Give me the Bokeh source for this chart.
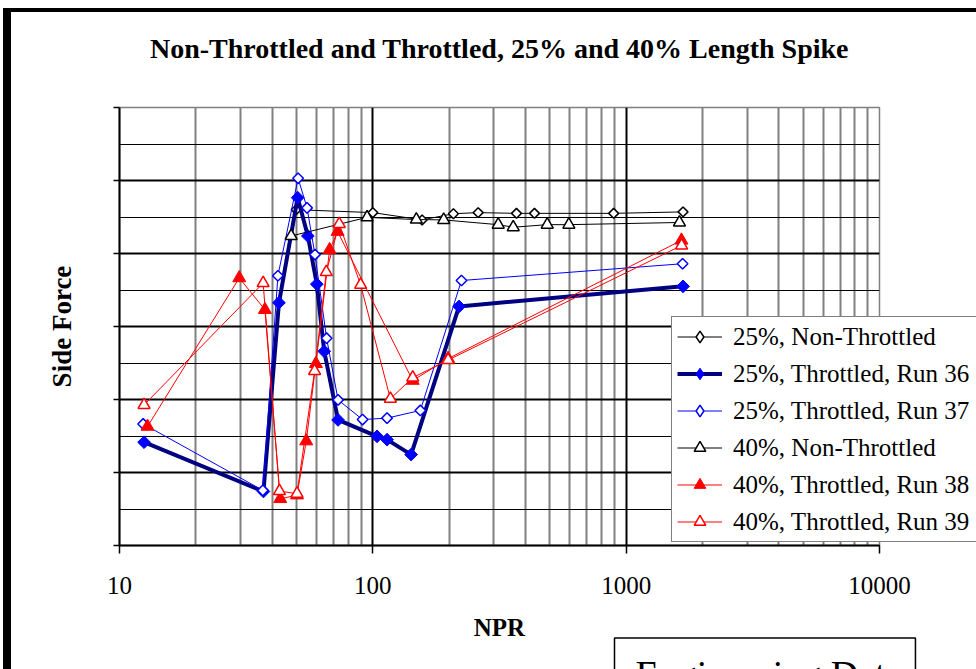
import numpy as np
from bokeh.plotting import figure
from bokeh.models import Range1d, FixedTicker, Legend, LegendItem, Title
from bokeh.embed import file_html
from bokeh.resources import INLINE

# ---------------- data ----------------
title_text = "Non-Throttled and Throttled, 25% and 40% Length Spike"
x_label = "NPR"
y_label = "Side Force"
stamp_text = "Engineering Data"

x_tick_values = [10, 100, 1000, 10000]
x_tick_labels = ["10", "100", "1000", "10000"]
x_minor_values = [20, 30, 40, 50, 60, 70, 80, 90,
                  200, 300, 400, 500, 600, 700, 800, 900,
                  2000, 3000, 4000, 5000, 6000, 7000, 8000, 9000]
y_major_values = [0, 2, 4, 6, 8, 10, 12]
y_minor_values = [1, 3, 5, 7, 9, 11]

series_names = ["25%, Non-Throttled", "25%, Throttled, Run 36", "25%, Throttled, Run 37",
                "40%, Non-Throttled", "40%, Throttled, Run 38", "40%, Throttled, Run 39"]

npr_25_nt = [49.8, 100, 156.5, 208, 260.5, 369, 434.6, 892.5, 1677]
sf_25_nt = [9.20, 9.12, 8.92, 9.09, 9.12, 9.10, 9.10, 9.10, 9.14]

npr_r36 = [12.5, 37.0, 42.6, 50.5, 55.4, 60.1, 64.3, 72.9, 103.9, 113.8, 141.6, 219, 1677]
sf_r36 = [2.83, 1.48, 6.65, 9.53, 8.48, 7.16, 5.32, 3.44, 2.99, 2.90, 2.49, 6.55, 7.10]

npr_r37 = [12.4, 36.8, 42.2, 50.7, 55.0, 59.1, 65.7, 72.9, 91.1, 113.8, 154.0, 223.8, 1670]
sf_r37 = [3.33, 1.51, 7.39, 10.06, 9.25, 7.97, 5.68, 3.99, 3.45, 3.49, 3.70, 7.26, 7.72]

npr_40_nt = [47.6, 94.9, 148.5, 190.4, 312.6, 358.3, 488, 594, 1623]
sf_40_nt = [8.48, 8.99, 8.93, 8.92, 8.79, 8.72, 8.79, 8.79, 8.85]

npr_r38 = [12.9, 29.7, 37.5, 43.1, 50.2, 54.6, 59.6, 67.5, 72.6, 143.7, 198.2, 1653]
sf_r38 = [3.26, 7.33, 6.46, 1.28, 1.38, 2.86, 4.98, 8.10, 8.60, 4.52, 5.12, 8.36]

npr_r39 = [12.5, 36.9, 42.8, 50.2, 58.9, 65.5, 73.7, 89.5, 117.3, 143.7, 198.2, 1655]
sf_r39 = [3.85, 7.19, 1.49, 1.42, 4.78, 7.49, 8.81, 7.14, 4.02, 4.60, 5.08, 8.22]

SERIF = "Liberation Serif"

# ---------------- figure ----------------
p = figure(frame_width=760, frame_height=438, x_axis_type="log",
           x_range=Range1d(10, 10000), y_range=Range1d(0, 12),
           output_backend="svg", toolbar_location=None, title=None,
           min_border_left=108, min_border_right=0,
           min_border_top=95, min_border_bottom=0)
p.styles = {"border-left": "8px solid black", "border-top": "4px solid black"}
p.margin = (8, 0, 0, 3)
p.background_fill_color = "white"
p.border_fill_color = "white"
p.outline_line_color = "#808080"
p.outline_line_width = 1.5

# title: a blank spacer next to the frame, then the title text above it
spacer = Title(text=" ", text_font=SERIF, text_font_size="10px", standoff=31)
p.add_layout(spacer, "above")
main_title = Title(text=title_text, align="center", standoff=0, text_font=SERIF,
                   text_font_style="bold", text_font_size="28px", text_color="black")
p.add_layout(main_title, "above")

# x axis
xa = p.xaxis[0]
xa.ticker = FixedTicker(ticks=x_tick_values, minor_ticks=x_minor_values)
xa.major_label_overrides = {v: t for v, t in zip(x_tick_values, x_tick_labels)}
xa.major_tick_out = 8
xa.major_tick_in = 0
xa.minor_tick_out = 0
xa.minor_tick_in = 0
xa.axis_line_color = "black"
xa.axis_line_width = 2
xa.major_tick_line_color = "black"
xa.major_tick_line_width = 1.5
xa.major_label_text_font = SERIF
xa.major_label_text_font_size = "25px"
xa.major_label_text_color = "black"
xa.major_label_standoff = 23
xa.axis_label = x_label
xa.axis_label_text_font = SERIF
xa.axis_label_text_font_style = "bold"
xa.axis_label_text_font_size = "25px"
xa.axis_label_text_color = "black"
xa.axis_label_standoff = 17

# y axis
ya = p.yaxis[0]
ya.ticker = FixedTicker(ticks=y_major_values, minor_ticks=y_minor_values)
ya.major_label_overrides = {v: "" for v in y_major_values}
ya.major_label_text_font_size = "1px"
ya.major_label_standoff = 0
ya.major_tick_out = 6
ya.major_tick_in = 0
ya.minor_tick_out = 0
ya.minor_tick_in = 0
ya.axis_line_color = "black"
ya.axis_line_width = 2
ya.major_tick_line_color = "black"
ya.major_tick_line_width = 1.5
ya.axis_label = y_label
ya.axis_label_text_font = SERIF
ya.axis_label_text_font_style = "bold"
ya.axis_label_text_font_size = "27px"
ya.axis_label_text_color = "black"
ya.axis_label_standoff = 37

# grids
p.xgrid.grid_line_color = "black"
p.xgrid.grid_line_width = 2
p.xgrid.minor_grid_line_color = "#808080"
p.xgrid.minor_grid_line_width = 2
p.ygrid.grid_line_color = "black"
p.ygrid.grid_line_width = 2
p.ygrid.minor_grid_line_color = "black"
p.ygrid.minor_grid_line_width = 1.2

# ---------------- series ----------------
DIAMOND = np.pi / 4

l1 = p.line(npr_25_nt, sf_25_nt, line_color="black", line_width=1)
m1 = p.scatter(npr_25_nt, sf_25_nt, marker="square", angle=DIAMOND, size=7,
               line_color="black", line_width=1.5, fill_color="white")

l2 = p.line(npr_r36, sf_r36, line_color="#000080", line_width=4)
m2 = p.scatter(npr_r36, sf_r36, marker="square", angle=DIAMOND, size=9,
               line_color="#0000FF", line_width=1, fill_color="#0000FF")

l3 = p.line(npr_r37, sf_r37, line_color="#0000FF", line_width=1)
m3 = p.scatter(npr_r37, sf_r37, marker="square", angle=DIAMOND, size=7.5,
               line_color="#0000FF", line_width=1.5, fill_color="white")

l4 = p.line(npr_40_nt, sf_40_nt, line_color="black", line_width=1)
m4 = p.scatter(npr_40_nt, sf_40_nt, marker="triangle", size=12,
               line_color="black", line_width=1.5, fill_color="white")

l5 = p.line(npr_r38, sf_r38, line_color="#FF0000", line_width=1)
m5 = p.scatter(npr_r38, sf_r38, marker="triangle", size=13,
               line_color="#FF0000", line_width=1, fill_color="#FF0000")

l6 = p.line(npr_r39, sf_r39, line_color="#FF0000", line_width=1)
m6 = p.scatter(npr_r39, sf_r39, marker="triangle", size=12,
               line_color="#FF0000", line_width=1.5, fill_color="white")

# legend-only diamond glyphs (legend draws markers unrotated)
k1 = p.scatter(npr_25_nt, sf_25_nt, marker="diamond", size=12, line_color="black",
               line_width=1.5, fill_color="white", visible=False)
k2 = p.scatter(npr_r36, sf_r36, marker="diamond", size=12, line_color="#0000FF",
               line_width=1, fill_color="#0000FF", visible=False)
k3 = p.scatter(npr_r37, sf_r37, marker="diamond", size=12, line_color="#0000FF",
               line_width=1.5, fill_color="white", visible=False)

items = [LegendItem(label=n, renderers=r) for n, r in zip(
    series_names, [[l1, k1], [l2, k2], [l3, k3], [l4, m4], [l5, m5], [l6, m6]])]
legend = Legend(items=items, location=(-208, 3))
legend.label_text_font = SERIF
legend.label_text_font_size = "25px"
legend.label_text_color = "black"
legend.glyph_width = 45
legend.glyph_height = 29
legend.label_height = 29
legend.label_width = 270
legend.spacing = 8
legend.padding = 5
legend.margin = 0
legend.label_standoff = 11
legend.border_line_color = "black"
legend.border_line_width = 1
legend.background_fill_color = "white"
legend.background_fill_alpha = 1
legend.inactive_fill_alpha = 0
p.add_layout(legend, "right")

# stamp box below the axis
stamp = Title(text=stamp_text, align="left", offset=495, standoff=-15,
              text_font=SERIF, text_font_size="38px", text_font_style="normal",
              text_color="black", border_line_color="black", border_line_width=1.5,
              background_fill_color="white",
              padding=dict(left=21, right=13, top=15, bottom=15))
p.add_layout(stamp, "below")

open("out.html", "w").write(file_html(p, INLINE))
